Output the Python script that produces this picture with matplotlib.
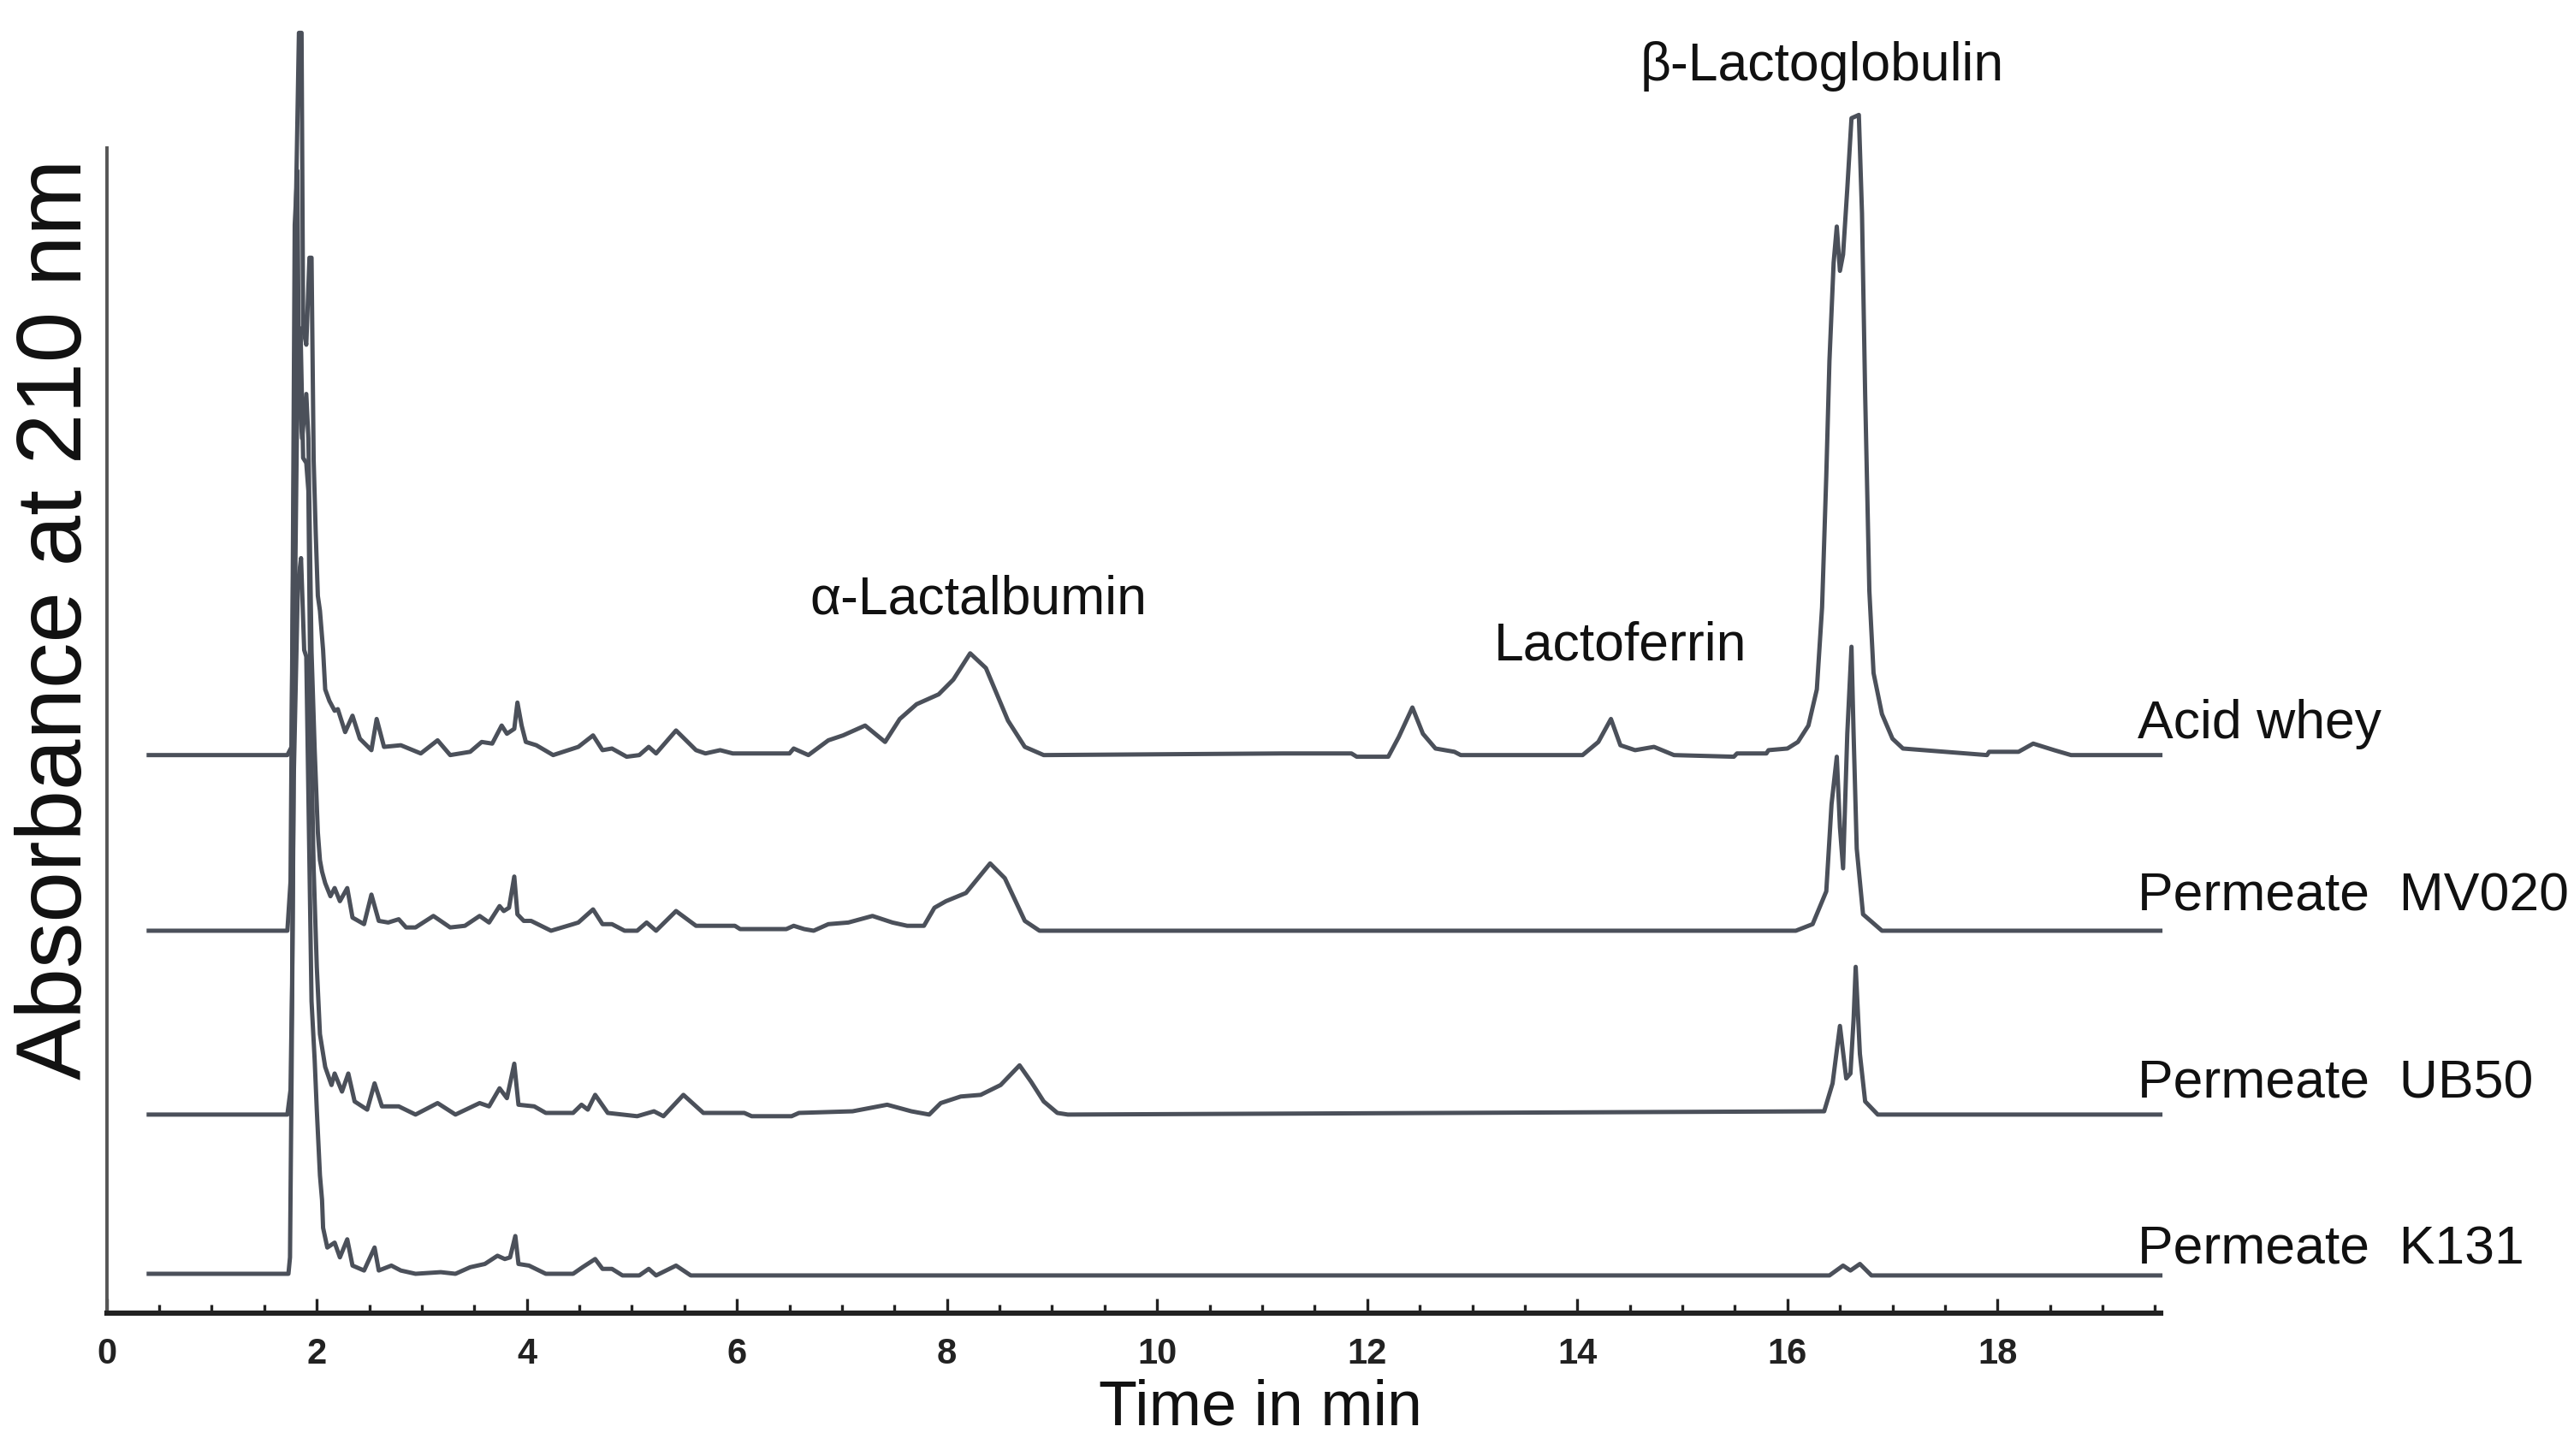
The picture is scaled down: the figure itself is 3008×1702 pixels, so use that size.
import numpy as np
import matplotlib.pyplot as plt
from matplotlib.ticker import MultipleLocator

# chromatogram traces: (time in min, signal above own baseline)
acid_whey = [
    (0.40, 0), (1.72, 0), (1.76, 5), (1.78, 150), (1.80, 330), (1.83, 440), (1.855, 440),
    (1.87, 260), (1.90, 250), (1.93, 303), (1.95, 303), (1.97, 180), (1.99, 135), (2.01, 97),
    (2.03, 88), (2.06, 64), (2.08, 40), (2.12, 33), (2.17, 27), (2.20, 28), (2.27, 14),
    (2.34, 24), (2.41, 10), (2.52, 3), (2.57, 22), (2.64, 5), (2.80, 6), (2.99, 1), (3.15, 9),
    (3.27, 0), (3.46, 2), (3.57, 8), (3.67, 7), (3.76, 18), (3.81, 13), (3.88, 16), (3.91, 32),
    (3.95, 18), (3.99, 8), (4.09, 6), (4.25, 0), (4.49, 5), (4.63, 12), (4.72, 3), (4.81, 4),
    (4.95, -1), (5.07, 0), (5.16, 5), (5.23, 1), (5.42, 15), (5.61, 3), (5.70, 1), (5.84, 3),
    (5.96, 1), (6.50, 1), (6.54, 4), (6.68, 0), (6.87, 9), (7.01, 12), (7.22, 18), (7.41, 8),
    (7.55, 22), (7.71, 31), (7.92, 37), (8.06, 46), (8.22, 62), (8.37, 53), (8.58, 21),
    (8.74, 5), (8.92, 0), (11.20, 1), (11.85, 1), (11.90, -1), (12.20, -1), (12.30, 11),
    (12.43, 29), (12.53, 13), (12.65, 4), (12.83, 2), (12.89, 0), (14.05, 0), (14.20, 8),
    (14.32, 22), (14.41, 6), (14.55, 3), (14.73, 5), (14.92, 0), (15.49, -1), (15.52, 1),
    (15.80, 1), (15.82, 3), (16.00, 4), (16.10, 8), (16.20, 18), (16.28, 40), (16.33, 90),
    (16.37, 170), (16.40, 240), (16.44, 300), (16.47, 322), (16.50, 295), (16.53, 305),
    (16.57, 345), (16.61, 388), (16.68, 390), (16.71, 330), (16.74, 220), (16.78, 100),
    (16.82, 50), (16.90, 25), (17.00, 10), (17.10, 4), (17.90, 0), (17.92, 2), (18.20, 2),
    (18.34, 7), (18.54, 3), (18.70, 0), (19.55, 0),
]

permeate_mv020 = [
    (0.40, 0), (1.72, 0), (1.75, 30), (1.77, 200), (1.79, 430), (1.815, 463), (1.83, 330),
    (1.86, 300), (1.90, 327), (1.92, 300), (1.95, 170), (1.98, 110), (2.01, 60), (2.03, 43),
    (2.05, 36), (2.08, 29), (2.13, 21), (2.17, 26), (2.22, 18), (2.29, 26), (2.34, 8),
    (2.45, 4), (2.52, 22), (2.59, 6), (2.68, 5), (2.78, 7), (2.85, 2), (2.94, 2), (3.11, 9),
    (3.27, 2), (3.41, 3), (3.55, 9), (3.64, 5), (3.74, 15), (3.78, 12), (3.83, 14), (3.88, 33),
    (3.91, 10), (3.97, 6), (4.04, 6), (4.23, 0), (4.44, 4), (4.49, 5), (4.63, 13), (4.72, 4),
    (4.81, 4), (4.93, 0), (5.05, 0), (5.14, 5), (5.23, 0), (5.42, 12), (5.61, 3), (5.98, 3),
    (6.03, 1), (6.47, 1), (6.54, 3), (6.64, 1), (6.73, 0), (6.87, 4), (7.06, 5), (7.29, 9),
    (7.48, 5), (7.62, 3), (7.78, 3), (7.88, 14), (7.99, 18), (8.18, 23), (8.41, 41),
    (8.55, 32), (8.74, 6), (8.88, 0), (16.08, 0), (16.24, 4), (16.37, 24), (16.42, 77),
    (16.47, 106), (16.50, 63), (16.53, 38), (16.57, 120), (16.61, 173), (16.63, 120),
    (16.66, 50), (16.72, 10), (16.90, 0), (19.55, 0),
]

permeate_ub50 = [
    (0.40, 0), (1.72, 0), (1.75, 15), (1.765, 80), (1.79, 300), (1.82, 470), (1.845, 479),
    (1.87, 400), (1.90, 397), (1.92, 380), (1.94, 250), (1.97, 150), (2.00, 90), (2.03, 49),
    (2.08, 29), (2.14, 18), (2.17, 25), (2.24, 14), (2.30, 25), (2.36, 8), (2.48, 3),
    (2.55, 19), (2.62, 5), (2.78, 5), (2.94, 0), (3.15, 7), (3.32, 0), (3.55, 7), (3.64, 5),
    (3.74, 16), (3.81, 10), (3.88, 31), (3.92, 6), (4.07, 5), (4.18, 1), (4.44, 1), (4.52, 6),
    (4.58, 3), (4.65, 12), (4.77, 1), (5.05, -1), (5.21, 2), (5.30, -1), (5.49, 12),
    (5.68, 1), (6.07, 1), (6.14, -1), (6.52, -1), (6.59, 1), (7.10, 2), (7.43, 6), (7.66, 2),
    (7.83, 0), (7.94, 7), (8.13, 11), (8.32, 12), (8.51, 18), (8.69, 30), (8.80, 20),
    (8.92, 8), (9.05, 1), (9.15, 0), (16.35, 2), (16.43, 19), (16.50, 54), (16.56, 22),
    (16.60, 25), (16.63, 58), (16.65, 90), (16.69, 37), (16.74, 8), (16.86, 0), (19.55, 0),
]

permeate_k131 = [
    (0.40, 0), (1.73, 0), (1.745, 10), (1.76, 120), (1.78, 300), (1.82, 420), (1.85, 436),
    (1.88, 380), (1.90, 376), (1.93, 250), (1.95, 166), (1.98, 130), (2.00, 100), (2.03, 60),
    (2.05, 45), (2.06, 28), (2.10, 16), (2.17, 19), (2.22, 10), (2.29, 21), (2.34, 5),
    (2.45, 2), (2.55, 16), (2.59, 2), (2.71, 5), (2.80, 2), (2.94, 0), (3.18, 1), (3.32, 0),
    (3.46, 4), (3.60, 6), (3.72, 11), (3.79, 9), (3.84, 10), (3.89, 23), (3.92, 6), (4.02, 5),
    (4.18, 0), (4.44, 0), (4.53, 4), (4.65, 9), (4.72, 3), (4.81, 3), (4.91, -1), (5.07, -1),
    (5.16, 3), (5.23, -1), (5.42, 5), (5.56, -1), (16.40, -1), (16.53, 5), (16.60, 2),
    (16.69, 6), (16.80, -1), (19.55, -1),
]

traces = [acid_whey, permeate_mv020, permeate_ub50, permeate_k131]
offsets = [340, 233, 121, 24]
sample_names = ['Acid whey', 'Permeate  MV020', 'Permeate  UB50', 'Permeate  K131']
label_heights = [350, 245, 131, 30]

peak_names = ['\u03b1-Lactalbumin', 'Lactoferrin', '\u03b2-Lactoglobulin']
peak_pos = [(8.30, 426), (14.41, 398), (16.33, 751)]

plt.rcParams['font.family'] = ['Liberation Sans', 'DejaVu Sans']

fig = plt.figure(figsize=(15.04, 8.51), dpi=200)
ax = fig.add_axes([65 / 1568, 87 / 887, (1316 - 65) / 1568, 800 / 887])

line_color = '#4b505a'
for data, off in zip(traces, offsets):
    arr = np.array(data, dtype=float)
    ax.plot(arr[:, 0], arr[:, 1] + off, color=line_color, lw=1.8,
            solid_joinstyle='round', clip_on=False)

ax.set_xlim(0, 19.55)
ax.set_ylim(0, 800)

for name, h in zip(sample_names, label_heights):
    ax.text(19.33, h, name, fontsize=22.5, ha='left', va='baseline', color='#111111')

for name, (t, h) in zip(peak_names, peak_pos):
    ax.text(t, h, name, fontsize=22.5, ha='center', va='baseline', color='#111111')

# axes styling
for side in ['top', 'right']:
    ax.spines[side].set_visible(False)
ax.spines['left'].set_bounds(0, 710)
ax.spines['left'].set_color('#555555')
ax.spines['left'].set_linewidth(1.4)
ax.spines['bottom'].set_color('#222222')
ax.spines['bottom'].set_linewidth(2.2)

ax.set_yticks([])
ax.xaxis.set_major_locator(MultipleLocator(2))
ax.xaxis.set_minor_locator(MultipleLocator(0.5))
ax.tick_params(axis='x', which='major', direction='in', length=6, width=1.2, pad=10,
               colors='#222222', labelsize=15)
ax.tick_params(axis='x', which='minor', direction='in', length=3.5, width=1.2,
               colors='#222222')
for lab in ax.get_xticklabels():
    lab.set_fontweight('bold')

fig.text(768 / 1568, 1 - 858 / 887, 'Time in min', fontsize=26.5, ha='center',
         va='center', color='#111111')
fig.text(35 / 1568, 1 - 377 / 887, 'Absorbance at 210 nm', fontsize=38.5, rotation=90,
         ha='center', va='center', color='#111111')

fig.savefig('out.png', dpi=200)
